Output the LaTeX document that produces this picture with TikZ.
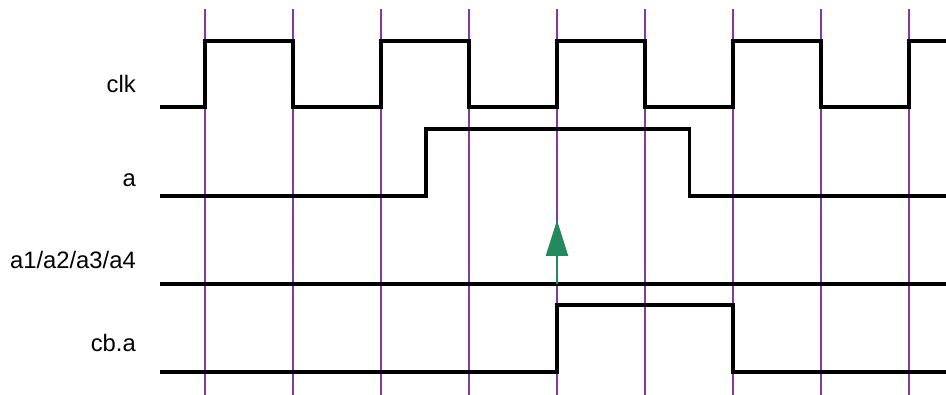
\documentclass[tikz,border=0pt]{standalone}
\usepackage{fontspec}
\setmainfont{Liberation Sans}
\usetikzlibrary{arrows.meta}
\definecolor{edgepurple}{RGB}{128,58,165}
\definecolor{evgreen}{RGB}{35,137,94}
\tikzset{
  wave/.style   ={line width=3.2pt,line join=miter},
  edgeline/.style={draw=edgepurple,line width=2pt},
  sig/.style    ={anchor=base east,font=\fontsize{23.8}{26}\selectfont,inner sep=0pt},
  ev/.style     ={evgreen,line width=2.4pt,-{Triangle[length=36pt,width=22pt]}},
}
\begin{document}
\begin{tikzpicture}[x=1pt,y=-1pt]
  \useasboundingbox (0,0) rectangle (946,395);
  \foreach \x in {205,293,381,469,557,645,733,821,909}{\draw[edgeline] (\x,9) -- (\x,395);}
  \node[sig] (lclk) at (136,92.7){clk};
  \node[sig] (la)   at (136,186.7){a};
  \node[sig] (la1)  at (136,268.3){a1/a2/a3/a4};
  \node[sig] (lcba) at (136,351.7){cb.a};
  % clk
  \draw[wave] (160,107) \foreach \x in {205,381,557,733}{
      -- (\x,107) -- (\x,41) -- (\x+88,41) -- (\x+88,107)}
    -- (909,107) -- (909,41) -- (946,41);
  % a
  \draw[wave] (160,196) -- (426,196) -- (426,129) -- (689.5,129) -- (689.5,196) -- (946,196);
  % a1/a2/a3/a4
  \draw[wave] (160,284) -- (946,284);
  % cb.a
  \draw[wave] (160,372) -- (557,372) -- (557,305) -- (733,305) -- (733,372) -- (946,372);
  % event
  \coordinate (evbase) at (557,284);
  \coordinate (evtip)  at (557,220);
  \draw[ev] (evbase) -- (evtip);
\end{tikzpicture}
\end{document}
